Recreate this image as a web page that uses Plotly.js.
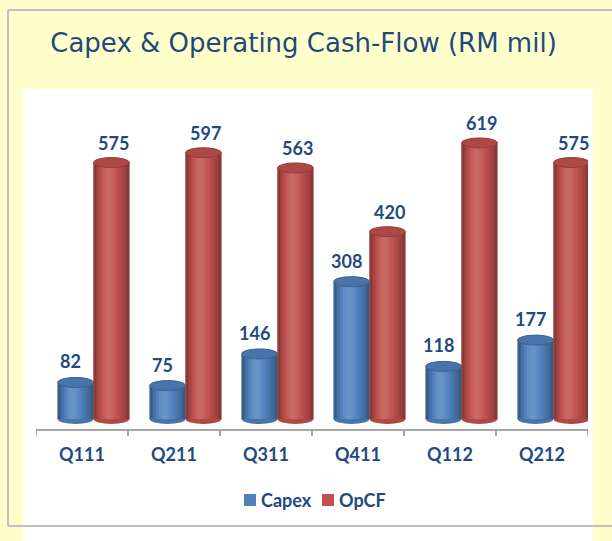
<!DOCTYPE html>
<html>
<head>
<meta charset="utf-8">
<script src="https://cdn.plot.ly/plotly-3.0.1.min.js"></script>
<style>html,body{margin:0;padding:0;background:#FFFFCC;}#chart{width:612px;height:541px;}</style>
</head>
<body>
<div id="chart"></div>
<script>
// ---- data ----
const quarters = ["Q111", "Q211", "Q311", "Q411", "Q112", "Q212"];
const capex = [82, 75, 146, 308, 118, 177];
const opcf = [575, 597, 563, 420, 619, 575];
const seriesNames = ["Capex", "OpCF"];

// ---- styling ----
const BLUE = [79, 129, 189];
const RED = [192, 80, 77];
const TXT = "#1F4A7E";
const FONT = "Lato, 'Open Sans', sans-serif";
const W = 0.39;           // bar width in category units
const OFF_BLUE = -0.265;  // bar start offsets (3D perspective shift)
const OFF_RED = 0.125;

// plot-area pixel geometry (for paper-referenced decoration)
const PL = 36, PW = 552, PB = 429, PH = 339;
const px = v => (v - PL) / PW;
const py = v => (PB - v) / PH;

function mix(c, f) { // f>0 toward white, f<0 toward black
  const tgt = f > 0 ? 255 : 0; const a = Math.abs(f);
  return "rgb(" + c.map(v => Math.round(v + (tgt - v) * a)).join(",") + ")";
}
function rgb(c){return "rgb(" + c.join(",") + ")";}

const idx = quarters.map((q, i) => i);

const traces = [
  {type: "bar", name: seriesNames[0], x: idx, y: capex, offset: OFF_BLUE, width: W,
   marker: {color: rgb(BLUE), line: {width: 0}}, hoverinfo: "y", showlegend: false},
  {type: "bar", name: seriesNames[1], x: idx, y: opcf, offset: OFF_RED, width: W,
   marker: {color: rgb(RED), line: {width: 0}}, hoverinfo: "y", showlegend: false}
];

const shapes = [];
// white panel
shapes.push({type: "rect", xref: "paper", yref: "paper", x0: px(23), x1: px(593), y0: py(545), y1: py(89),
  fillcolor: "#FFFFFF", line: {width: 0}, layer: "below"});

// cylinder shading derived from data
const profile = [-0.28, -0.14, -0.02, 0.08, 0.14, 0.14, 0.09, 0.03, -0.04, -0.11, -0.19, -0.30];
function addCyl(values, off, col) {
  values.forEach((v, i) => {
    const x0 = i + off, x1 = x0 + W;
    shapes.push({type: "circle", xref: "x", yref: "y", x0: x0, x1: x1, ysizemode: "pixel", yanchor: 0,
      y0: -5, y1: 5, fillcolor: mix(col, -0.1), line: {width: 0}});
    const n = profile.length;
    for (let k = 0; k < n; k++) {
      const a = x0 + W * k / n;
      const b = k === n - 1 ? x1 : x0 + W * (k + 1) / n + 0.012;
      shapes.push({type: "rect", xref: "x", yref: "y", x0: a, x1: b,
        y0: 0, y1: v, fillcolor: mix(col, profile[k]), line: {width: 0}});
    }
    shapes.push({type: "circle", xref: "x", yref: "y", x0: x0, x1: x1, ysizemode: "pixel", yanchor: v,
      y0: -5, y1: 5, fillcolor: mix(col, -0.1), line: {width: 1, color: mix(col, -0.25)}});
  });
}
addCyl(capex, OFF_BLUE, BLUE);
addCyl(opcf, OFF_RED, RED);

// tick marks at category boundaries
for (let b = 0; b <= quarters.length; b++) {
  shapes.push({type: "line", xref: "x", yref: "paper", x0: b - 0.5, x1: b - 0.5,
    ysizemode: "pixel", yanchor: 0, y0: 0, y1: -7, line: {color: "#A6A6A6", width: 2}});
}
// frame lines
shapes.push({type: "line", xref: "paper", yref: "paper", x0: px(8), x1: px(640), y0: py(10), y1: py(10), line: {color: "#BFBFBF", width: 2}});
shapes.push({type: "line", xref: "paper", yref: "paper", x0: px(8), x1: px(8), y0: py(10), y1: py(526), line: {color: "#BFBFBF", width: 2}});
shapes.push({type: "line", xref: "paper", yref: "paper", x0: px(8), x1: px(640), y0: py(526), y1: py(526), line: {color: "#BFBFBF", width: 2}});

// custom legend (symbols + real text)
const legendColors = [rgb(BLUE), rgb(RED)];
const legendX = [244, 322];
const annotations = [];
seriesNames.forEach((nm, k) => {
  shapes.push({type: "rect", xref: "paper", yref: "paper", x0: px(legendX[k]), x1: px(legendX[k] + 12),
    y0: py(506), y1: py(494), fillcolor: legendColors[k], line: {width: 0}});
  annotations.push({xref: "paper", yref: "paper", x: px(legendX[k] + 15), y: py(500), xanchor: "left", yanchor: "middle",
    text: nm, showarrow: false, font: {family: FONT, size: 18, color: TXT, weight: "bold"}});
});

capex.forEach((v, i) => annotations.push({x: i + OFF_BLUE + W / 2 - 0.06, y: v, xref: "x", yref: "y",
  text: String(v), showarrow: false, yshift: 21, font: {family: FONT, size: 18, color: TXT, weight: "bold"}}));
opcf.forEach((v, i) => annotations.push({x: i + OFF_RED + W / 2 + 0.02, y: v, xref: "x", yref: "y",
  text: String(v), showarrow: false, yshift: 20, font: {family: FONT, size: 18, color: TXT, weight: "bold"}}));

const layout = {
  width: 612, height: 541,
  paper_bgcolor: "#FFFFCC", plot_bgcolor: "#FFFFFF",
  margin: {l: PL, r: 612 - PL - PW, t: PB - PH, b: 541 - PB},
  title: {text: "Capex &amp; Operating Cash-Flow (RM mil)", x: 0.496, xanchor: "center", xref: "container",
    y: 1 - 43 / 541, yanchor: "middle", yref: "container",
    font: {family: "'DejaVu Sans', sans-serif", size: 26, color: "#1F497D"}},
  barmode: "overlay",
  showlegend: false,
  xaxis: {type: "linear", range: [-0.5, 5.5], tickvals: idx, ticktext: quarters, ticks: "",
    showgrid: false, zeroline: false, showline: true, linecolor: "#A6A6A6", linewidth: 2,
    tickfont: {family: FONT, size: 18, color: TXT, weight: "bold"}, ticklabelstandoff: 8, fixedrange: true},
  yaxis: {range: [-22.4, 737.7], visible: false, showgrid: false, zeroline: false, fixedrange: true},
  shapes: shapes,
  annotations: annotations
};

Plotly.newPlot("chart", traces, layout, {displayModeBar: false, staticPlot: true});
</script>
</body>
</html>
